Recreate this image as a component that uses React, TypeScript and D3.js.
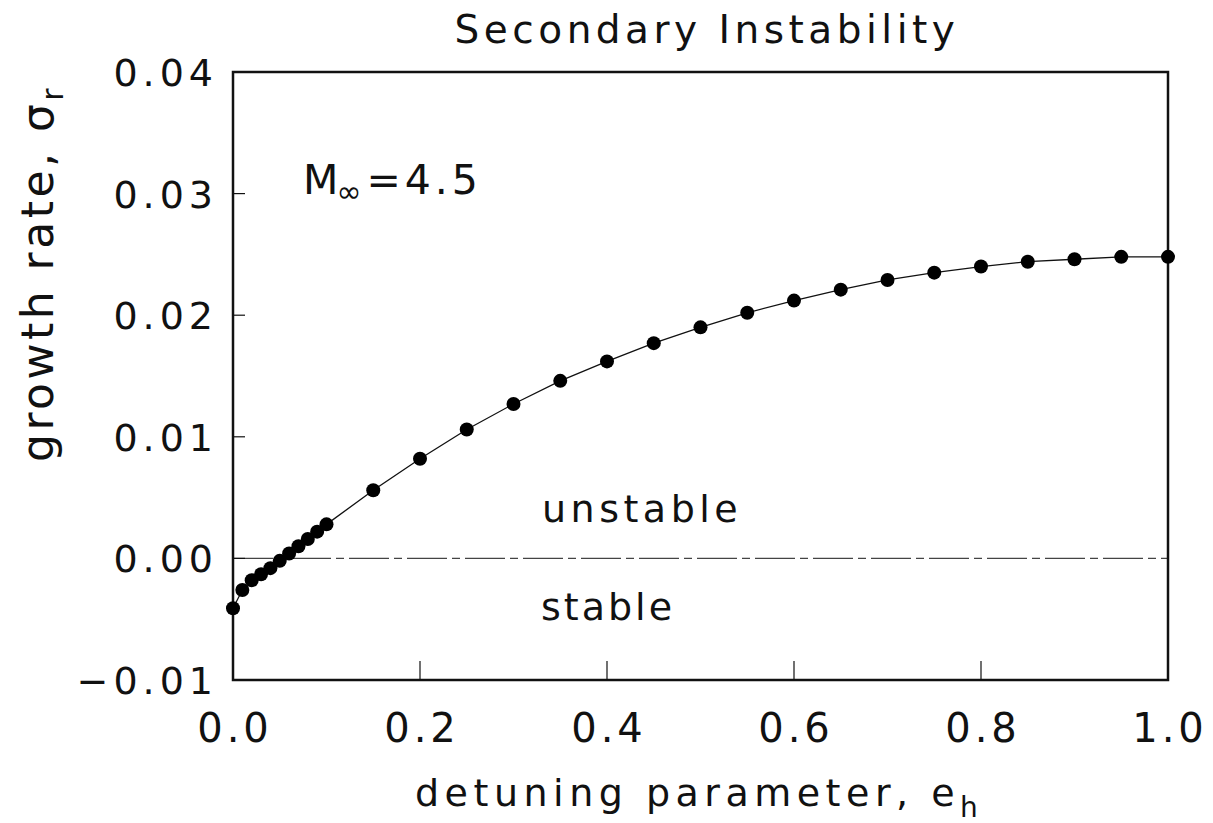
import React from "react";
import * as d3 from "d3";

const detuning: number[] = [0, 0.01, 0.02, 0.03, 0.04, 0.05, 0.06, 0.07, 0.08, 0.09, 0.1,
  0.15, 0.2, 0.25, 0.3, 0.35, 0.4, 0.45, 0.5, 0.55, 0.6, 0.65, 0.7, 0.75, 0.8, 0.85, 0.9, 0.95, 1.0];
const growthRate: number[] = [-0.0041, -0.0026, -0.0018, -0.0013, -0.0008, -0.0002, 0.0004, 0.0010, 0.0016, 0.0022, 0.0028,
  0.0056, 0.0082, 0.0106, 0.0127, 0.0146, 0.0162, 0.0177, 0.0190, 0.0202, 0.0212, 0.0221, 0.0229, 0.0235, 0.0240, 0.0244, 0.0246, 0.0248, 0.0248];
const yTicks: number[] = [-0.01, 0, 0.01, 0.02, 0.03, 0.04];
const yTickLabels: string[] = ["\u22120.01", "0.00", "0.01", "0.02", "0.03", "0.04"];
const xTicks: number[] = [0, 0.2, 0.4, 0.6, 0.8, 1.0];
const xTickLabels: string[] = ["0.0", "0.2", "0.4", "0.6", "0.8", "1.0"];

const W = 1213, H = 823;
const L = 233, R = 1168, T = 72, B = 680;
const FONT = "'DejaVu Sans', sans-serif";

export default function App() {
  const x = d3.scaleLinear().domain([0, 1]).range([L, R]);
  const y = d3.scaleLinear().domain([-0.01, 0.04]).range([B, T]);
  const pts = detuning.map((d, i) => [d, growthRate[i]] as [number, number]);
  const line = d3.line<[number, number]>().x(d => x(d[0])).y(d => y(d[1]))(pts) || "";

  return (
    <svg width={W} height={H} style={{ position: "absolute", left: 0, top: 0, background: "#fff" }} fontFamily={FONT}>
      <rect x={0} y={0} width={W} height={H} fill="#fff" />
      {/* title */}
      <text x={707} y={43} fontSize={39} letterSpacing={4.5} textAnchor="middle" fill="#111">Secondary Instability</text>

      {/* zero line */}
      <line x1={L} x2={R} y1={y(0)} y2={y(0)} stroke="#444" strokeWidth={1.1} strokeDasharray="40 5 8 5" />

      {/* frame */}
      <rect x={L} y={T} width={R - L} height={B - T} fill="none" stroke="#111" strokeWidth={2.5} />

      {/* y ticks */}
      {yTicks.map((t, i) => (
        <g key={"yt" + i}>
          {t > -0.01 && t < 0.04 && <line x1={L} x2={L + 12} y1={y(t)} y2={y(t)} stroke="#111" strokeWidth={1.2} />}
          <text x={218} y={y(t) + 14} fontSize={38} letterSpacing={5} textAnchor="end" fill="#111">{yTickLabels[i]}</text>
        </g>
      ))}

      {/* x ticks */}
      {xTicks.map((t, i) => (
        <g key={"xt" + i}>
          {t > 0 && t < 1 && <line x1={x(t)} x2={x(t)} y1={B} y2={B - 19} stroke="#111" strokeWidth={1.2} />}
          <text x={x(t) + 2} y={742} fontSize={40} letterSpacing={4} textAnchor="middle" fill="#111">{xTickLabels[i]}</text>
        </g>
      ))}

      {/* data line and points */}
      <path d={line} fill="none" stroke="#111" strokeWidth={1.3} />
      {pts.map((p, i) => (
        <circle key={"p" + i} cx={x(p[0])} cy={y(p[1])} r={7} fill="#000" />
      ))}

      {/* annotations */}
      <text x={303} y={194} fontSize={41} fill="#111">
        <tspan>M</tspan>
        <tspan fontSize={30} dy={8} dx={-2}>{"\u221E"}</tspan>
        <tspan dy={-8} dx={5} letterSpacing={4}>=4.5</tspan>
      </text>
      <text x={542} y={522} fontSize={38} letterSpacing={4.5} fill="#111">unstable</text>
      <text x={541} y={620} fontSize={38} letterSpacing={3} fill="#111">stable</text>

      {/* axis labels */}
      <text x={415} y={806} fontSize={38} letterSpacing={5.5} fill="#111">
        <tspan>detuning parameter, e</tspan>
        <tspan fontSize={28} dy={11} letterSpacing={0}>h</tspan>
      </text>
      <text transform="translate(53,462) rotate(-90)" fontSize={44} letterSpacing={3.5} fill="#111">
        <tspan>{"growth rate, \u03C3"}</tspan>
        <tspan fontSize={30} dy={10} letterSpacing={0}>r</tspan>
      </text>
    </svg>
  );
}
